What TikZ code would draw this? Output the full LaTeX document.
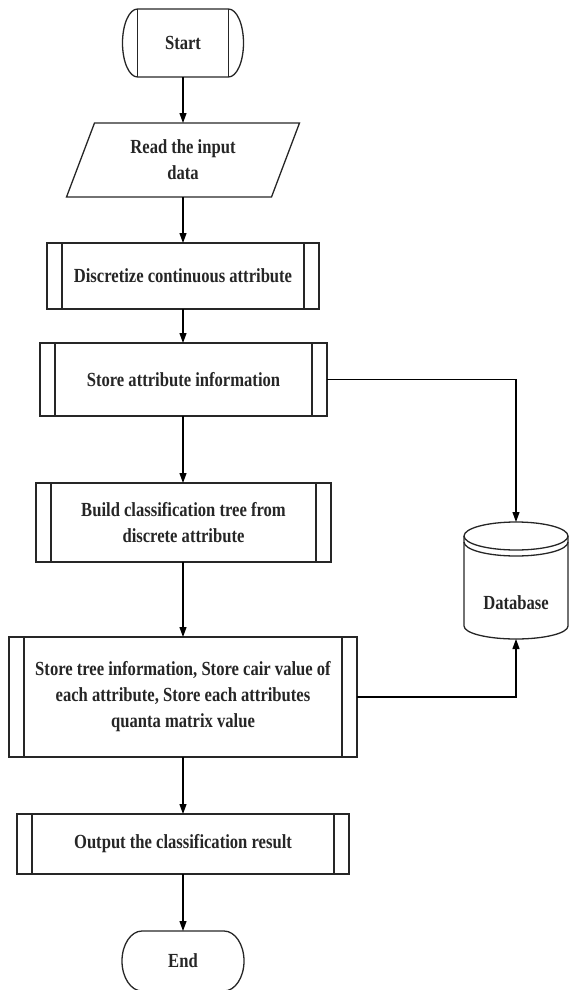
\documentclass[tikz,border=0pt]{standalone}
\usepackage{fontspec}
\newfontfamily\lblfont{Liberation Serif}[FakeStretch=0.83]
\usetikzlibrary{arrows.meta}
\begin{document}
\begin{tikzpicture}[x=1pt,y=1pt,
  border/.style={draw=black!85, line width=1.3pt},
  lbl/.style={font=\lblfont\bfseries\fontsize{20}{26}\selectfont, align=center, text=black!85, inner sep=0pt, outer sep=0pt},
  shell/.style n args={2}{lbl, rectangle, minimum width=#1pt, minimum height=#2pt},
  proc/.style n args={2}{shell={#1}{#2}, border},
  arr/.style={-{Triangle[length=10pt,width=7pt]}, line width=1.1pt, draw=black}]
\useasboundingbox (0,0) rectangle (568,-990);

% nodes
\node[shell={91}{68}] (start) at (183,-43) {Start};
\node[shell={233}{74}] (read) at (183,-160) {Read the input\\data};
\node[proc={272}{66}] (disc) at (183,-276) {Discretize continuous attribute};
\node[proc={287}{73}] (sattr) at (183.5,-379.5) {Store attribute information};
\node[proc={295}{79}] (build) at (183.5,-522.5) {Build classification tree from\\discrete attribute};
\node[proc={348}{120}] (stree) at (183,-697) {Store tree information, Store cair value of\\each attribute, Store each attributes\\quanta matrix value};
\node[proc={332}{60}] (out) at (183,-844) {Output the classification result};
\node[shell={122}{60}] (end) at (183,-961) {End};
\node[shell={104}{117}] (db) at (516,-580.5) {};
\node[lbl] (dbtext) at (516,-603) {Database};

% terminator shapes
\draw[border] (start.north west) -- (start.north east)
  arc[start angle=90,end angle=-90,x radius=15pt,y radius=34pt]
  -- (start.south west)
  arc[start angle=270,end angle=90,x radius=15pt,y radius=34pt] -- cycle;
\draw[border] (start.north west) -- (start.south west);
\draw[border] (start.north east) -- (start.south east);

\draw[border] ([xshift=20pt]end.north west) -- ([xshift=-20pt]end.north east)
  arc[start angle=90,end angle=-90,x radius=20pt,y radius=30pt]
  -- ([xshift=20pt]end.south west)
  arc[start angle=270,end angle=90,x radius=20pt,y radius=30pt] -- cycle;

% input parallelogram
\draw[border] ([xshift=28pt]read.north west) -- (read.north east)
  -- ([xshift=-28pt]read.south east) -- (read.south west) -- cycle;

% predefined-process side bars
\foreach \n in {disc,sattr,build,stree,out}{
  \draw[border] ([xshift=15pt]\n.north west) -- ([xshift=15pt]\n.south west);
  \draw[border] ([xshift=-15pt]\n.north east) -- ([xshift=-15pt]\n.south east);
}

% database cylinder
\draw[border] (516,-536) ellipse[x radius=52pt, y radius=14pt];
\draw[border] (464,-542) arc[start angle=180,end angle=360,x radius=52pt,y radius=14pt];
\draw[border] (464,-536) -- (464,-626) arc[start angle=180,end angle=360,x radius=52pt,y radius=13pt] -- (568,-536);

% connectors
\draw[arr] (start) -- (read);
\draw[arr] (read) -- (disc);
\draw[arr] (disc) -- (sattr.north -| disc.north);
\draw[arr] (sattr.south -| disc.south) -- (build.north -| disc.north);
\draw[arr] (build.south -| disc.south) -- (stree);
\draw[arr] (stree) -- (out);
\draw[arr] (out) -- (end);
\draw[arr] (sattr.east) -| (db.north);
\draw[arr] (stree.east) -| (db.south);
\end{tikzpicture}
\end{document}
